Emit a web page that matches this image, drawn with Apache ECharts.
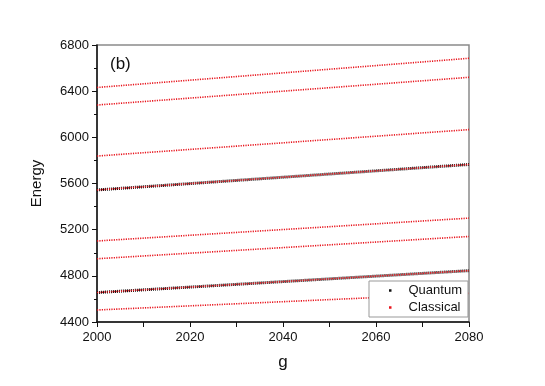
<!DOCTYPE html>
<html>
<head>
<meta charset="utf-8">
<script src="https://cdn.jsdelivr.net/npm/echarts@6/dist/echarts.min.js"></script>
<style>
  html, body { margin: 0; padding: 0; background: #fff; }
  #chart { width: 545px; height: 386px; }
</style>
</head>
<body>
<div id="chart"></div>
<script>
// g range where the levels are drawn
const gEnds = [2000, 2080];

// classical levels: energy at g=2000 and g=2080
const classicalStart = [6432, 6280, 5838, 5544, 5102, 4948, 4655, 4504];
const classicalEnd = [6685, 6520, 6067, 5765, 5300, 5141, 4845, 4648];

// quantum levels (they sit on two of the classical ones)
const quantumStart = [5544, 4655];
const quantumEnd = [5765, 4845];

const font = "Liberation Sans, Arial, sans-serif";

function levelSeries(name, starts, ends, color, width, dash, z) {
  return starts.map((s, i) => ({
    name: name,
    type: "line",
    data: [[gEnds[0], s], [gEnds[1], ends[i]]],
    symbol: "none",
    silent: true,
    z: z,
    lineStyle: { color: color, width: width, type: dash },
    itemStyle: { color: color }
  }));
}

const series = [
  ...levelSeries("Quantum", quantumStart, quantumEnd, "#111", 3, [1, 1], 2),
  ...levelSeries("Classical", classicalStart, classicalEnd, "#e8141c", 1.6, [1.2, 1.2], 3)
];

const chart = echarts.init(document.getElementById("chart"));
chart.setOption({
  animation: false,
  backgroundColor: "#fff",
  grid: {
    left: 97, right: 76, top: 45, bottom: 64,
    show: true, borderColor: "#8a8a8a", borderWidth: 1.5
  },
  legend: {
    data: ["Quantum", "Classical"],
    orient: "vertical",
    left: 369, top: 281,
    icon: "rect",
    itemWidth: 2.5, itemHeight: 2.5,
    itemGap: 4,
    padding: [3, 6, 3, 20],
    borderColor: "#999", borderWidth: 1,
    backgroundColor: "#fff",
    textStyle: { fontFamily: font, fontSize: 13, color: "#111", padding: [0, 0, 0, 12] }
  },
  graphic: [{
    type: "text", left: 110, top: 56,
    style: { text: "(b)", font: "17px " + font, fill: "#111" }
  }],
  xAxis: {
    type: "value", min: 2000, max: 2080, interval: 20,
    name: "g", nameLocation: "middle", nameGap: 32,
    nameTextStyle: { fontFamily: font, fontSize: 17, color: "#111" },
    axisLine: { lineStyle: { color: "#111", width: 1.5 } },
    axisTick: { show: true, length: 5, lineStyle: { color: "#111" } },
    minorTick: { show: true, splitNumber: 2, length: 5, lineStyle: { color: "#111" } },
    splitLine: { show: false },
    axisLabel: {
      fontFamily: font, fontSize: 13, color: "#111", margin: 9,
      formatter: (v) => String(v)
    }
  },
  yAxis: {
    type: "value", min: 4400, max: 6800, interval: 400,
    name: "Energy", nameLocation: "middle", nameGap: 53,
    nameTextStyle: { fontFamily: font, fontSize: 15, color: "#111" },
    axisLine: { lineStyle: { color: "#111", width: 1.5 } },
    axisTick: { show: true, length: 5, lineStyle: { color: "#111" } },
    minorTick: { show: true, splitNumber: 2, length: 3, lineStyle: { color: "#111" } },
    splitLine: { show: false },
    axisLabel: {
      fontFamily: font, fontSize: 13, color: "#111", margin: 8,
      formatter: (v) => String(v)
    }
  },
  series: series
});
</script>
</body>
</html>
